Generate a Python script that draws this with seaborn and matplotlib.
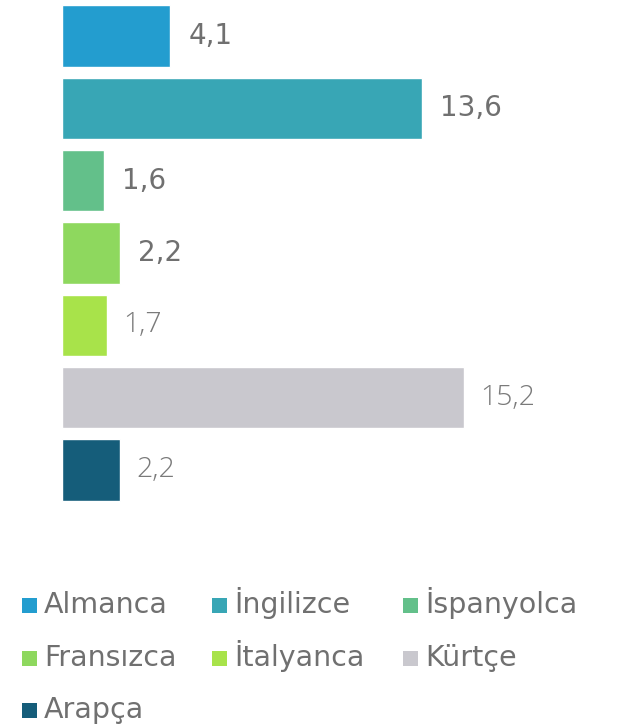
import matplotlib
matplotlib.use("Agg")
import matplotlib.pyplot as plt
from matplotlib.patches import Rectangle
import seaborn as sns
import pandas as pd

languages = ["Almanca", "İngilizce", "İspanyolca", "Fransızca", "İtalyanca", "Kürtçe", "Arapça"]
values = [4.1, 13.6, 1.6, 2.2, 1.7, 15.2, 2.2]
value_labels = ["4,1", "13,6", "1,6", "2,2", "1,7", "15,2", "2,2"]
colors = ["#239DCF", "#38A6B5", "#63C08A", "#8ED85E", "#A8E34A", "#C9C8CE", "#155D7A"]

sns.set_theme(style="white")
plt.rcParams['font.family'] = ['DejaVu Sans']

W, H = 626, 728
df = pd.DataFrame({"dil": languages, "oran": values})

fig = plt.figure(figsize=(W / 100, H / 100), dpi=100)
ax = fig.add_axes([62 / W, 1 - 506 / H, 1 - 62 / W, 506 / H])

sns.barplot(data=df, y="dil", x="oran", hue="dil", palette=colors, order=languages,
            hue_order=languages, orient="h", width=0.85, dodge=False, legend=False,
            saturation=1, ax=ax)

ax.set_xlim(0, (W - 62) / 26.45)
ax.set_ylim(6.5, -0.5)
ax.set_axis_off()

for i, cont in enumerate(ax.containers):
    if i < 4:
        ax.bar_label(cont, labels=[value_labels[i]], padding=13, fontsize=20,
                     color="#707070", family="DejaVu Sans")
    else:
        ax.bar_label(cont, labels=[value_labels[i]], padding=11.5, fontsize=20.5,
                     color="#7a7a7a", family="Open Sans", fontweight="light")

# legend laid out row by row, three columns
col_x = [22, 212, 403]
row_base = [613, 666, 718]
for i, (lab, c) in enumerate(zip(languages, colors)):
    r, k = divmod(i, 3)
    x0 = col_x[k]
    yb = row_base[r]
    fig.add_artist(Rectangle((x0 / W, 1 - yb / H), 15 / W, 15.5 / H,
                             transform=fig.transFigure, facecolor=c, edgecolor="none"))
    fig.text((x0 + 22) / W, 1 - yb / H, lab, fontsize=20.5, color="#707070",
             ha="left", va="baseline")

fig.savefig("out.png", dpi=100)
